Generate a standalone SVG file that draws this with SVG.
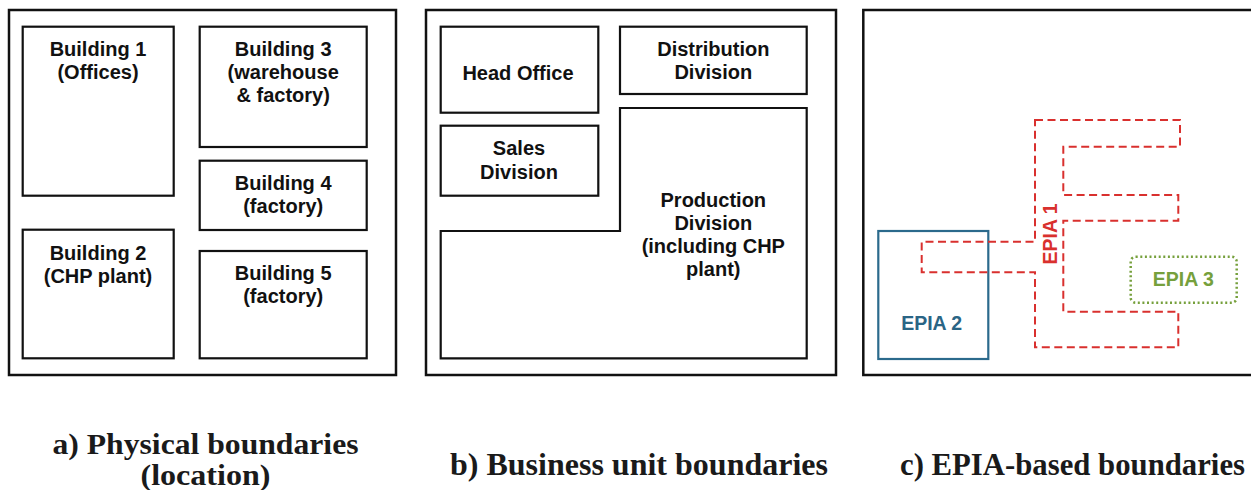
<svg xmlns="http://www.w3.org/2000/svg" width="1251" height="490" viewBox="0 0 1251 490">
<style>
.frame{fill:none;stroke:#111;stroke-width:2.5}
.box{fill:none;stroke:#111;stroke-width:2.2}
.t{font-family:"Liberation Sans",Arial,sans-serif;font-weight:bold;font-size:20px;fill:#111;text-anchor:middle}
.cap{font-family:"Liberation Serif","Times New Roman",serif;font-weight:bold;font-size:31px;fill:#1a1a1a;text-anchor:middle}
.epia1{fill:none;stroke:#d9302e;stroke-width:2;stroke-dasharray:8 4.5}
.epia2{fill:none;stroke:#2b6a8c;stroke-width:2.2}
.epia3{fill:none;stroke:#76a03c;stroke-width:2.5;stroke-dasharray:2 2.6}
</style>
<rect width="1251" height="490" fill="#fff"/>

<!-- Panel a -->
<g id="panel-a">
<rect class="frame" x="9" y="10" width="387" height="365"/>
</g>
<g id="building1">
<rect class="box" x="22.7" y="26.7" width="151" height="169"/>
<text class="t" x="98" y="56">Building 1</text>
<text class="t" x="98" y="79">(Offices)</text>
</g>
<g id="building2">
<rect class="box" x="22.7" y="229.7" width="151" height="128.6"/>
<text class="t" x="98" y="259.5">Building 2</text>
<text class="t" x="98" y="282.5">(CHP plant)</text>
</g>
<g id="building3">
<rect class="box" x="199.7" y="26.7" width="167" height="120.3"/>
<text class="t" x="283.2" y="56">Building 3</text>
<text class="t" x="283.2" y="79">(warehouse</text>
<text class="t" x="283.2" y="102">&amp; factory)</text>
</g>
<g id="building4">
<rect class="box" x="199.7" y="160.7" width="167" height="69.3"/>
<text class="t" x="283.2" y="189.5">Building 4</text>
<text class="t" x="283.2" y="212.5">(factory)</text>
</g>
<g id="building5">
<rect class="box" x="199.7" y="251" width="167" height="107.3"/>
<text class="t" x="283.2" y="279.5">Building 5</text>
<text class="t" x="283.2" y="302.5">(factory)</text>
</g>

<!-- Panel b -->
<g id="panel-b">
<rect class="frame" x="426" y="10" width="410" height="365"/>
</g>
<g id="head-office">
<rect class="box" x="440.7" y="26.7" width="157.6" height="86"/>
<text class="t" x="518" y="80">Head Office</text>
</g>
<g id="distribution">
<rect class="box" x="620" y="26.7" width="186.7" height="67.3"/>
<text class="t" x="713.3" y="56">Distribution</text>
<text class="t" x="713.3" y="79.3">Division</text>
</g>
<g id="sales">
<rect class="box" x="440.7" y="125.7" width="157.6" height="70"/>
<text class="t" x="519" y="155.3">Sales</text>
<text class="t" x="519" y="179">Division</text>
</g>
<g id="production">
<path class="box" d="M620 108 H806.7 V358.3 H440.7 V231 H620 Z"/>
<text class="t" x="713.3" y="207.3">Production</text>
<text class="t" x="713.3" y="230">Division</text>
<text class="t" x="713.3" y="253.3">(including CHP</text>
<text class="t" x="713.3" y="276.3">plant)</text>
</g>

<!-- Panel c -->
<g id="panel-c">
<rect class="frame" x="863.3" y="10" width="400" height="365"/>
</g>
<g id="epia2">
<rect class="epia2" x="878.3" y="231" width="110" height="128"/>
<text class="t" x="931.7" y="330" style="fill:#2a6585;font-size:19.5px">EPIA 2</text>
</g>
<g id="epia1">
<path class="epia1" d="M1035 120 H1180 V146.7 H1063.3 V195 H1178.3 V220.7 H1063.3 V311.7 H1178.3 V347.3 H1035 V272.3 H921.7 V241.7 H1035 Z"/>
<text class="t" transform="translate(1057.3 234) rotate(-90)" x="0" y="0" style="fill:#d9302e;font-size:19.5px">EPIA 1</text>
</g>
<g id="epia3">
<rect class="epia3" x="1130.7" y="256.7" width="106" height="46" rx="5"/>
<text class="t" x="1183.3" y="286" style="fill:#76a03c;font-size:19.5px">EPIA 3</text>
</g>

<!-- Captions -->
<g id="captions">
<text class="cap" x="205.5" y="454" textLength="306" lengthAdjust="spacingAndGlyphs" style="font-size:29px">a) Physical boundaries</text>
<text class="cap" x="205.5" y="485" textLength="130" lengthAdjust="spacingAndGlyphs" style="font-size:29px">(location)</text>
<text class="cap" x="639" y="474.5" textLength="378" lengthAdjust="spacingAndGlyphs">b) Business unit boundaries</text>
<text class="cap" x="1072.5" y="474.5" textLength="345" lengthAdjust="spacingAndGlyphs">c) EPIA-based boundaries</text>
</g>
<g id="connectors"/>
</svg>
